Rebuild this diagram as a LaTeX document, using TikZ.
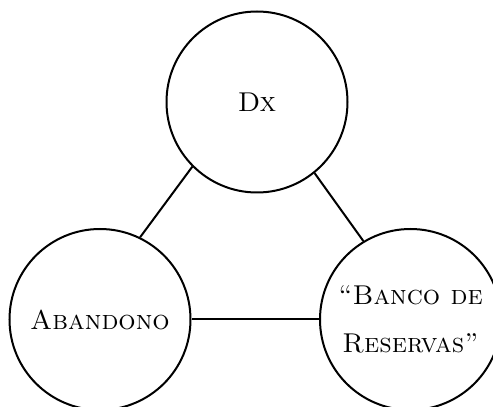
\documentclass[tikz,border=0pt]{standalone}
\usepackage{tikz}
\usetikzlibrary{positioning}
\tikzset{
    topic/.style={
        circle,
        draw=black,
        line width=1pt,
        minimum size=90.5pt,
        inner sep=0pt,
        fill=white,
        align=center,
        font=\fontsize{13.6}{24}\selectfont\scshape
    },
    link/.style={
        draw=black,
        line width=1pt
    }
}
\begin{document}
\begin{tikzpicture}

\useasboundingbox (0,0) rectangle (246.5pt,203.5pt);

% Three topics
\node[topic] (dx) at (128.5pt,152.5pt) {Dx};
\node[topic] (abandono) at (50pt,43.75pt) {Abandono};
\node[topic] (banco) at (205.25pt,43.75pt) {``Banco de\\Reservas''};

% Links
\draw[link] (dx.225) -- (abandono.64);
\draw[link] (dx.309) -- (banco.121);
\draw[link] (abandono) -- (banco);

\end{tikzpicture}
\end{document}
